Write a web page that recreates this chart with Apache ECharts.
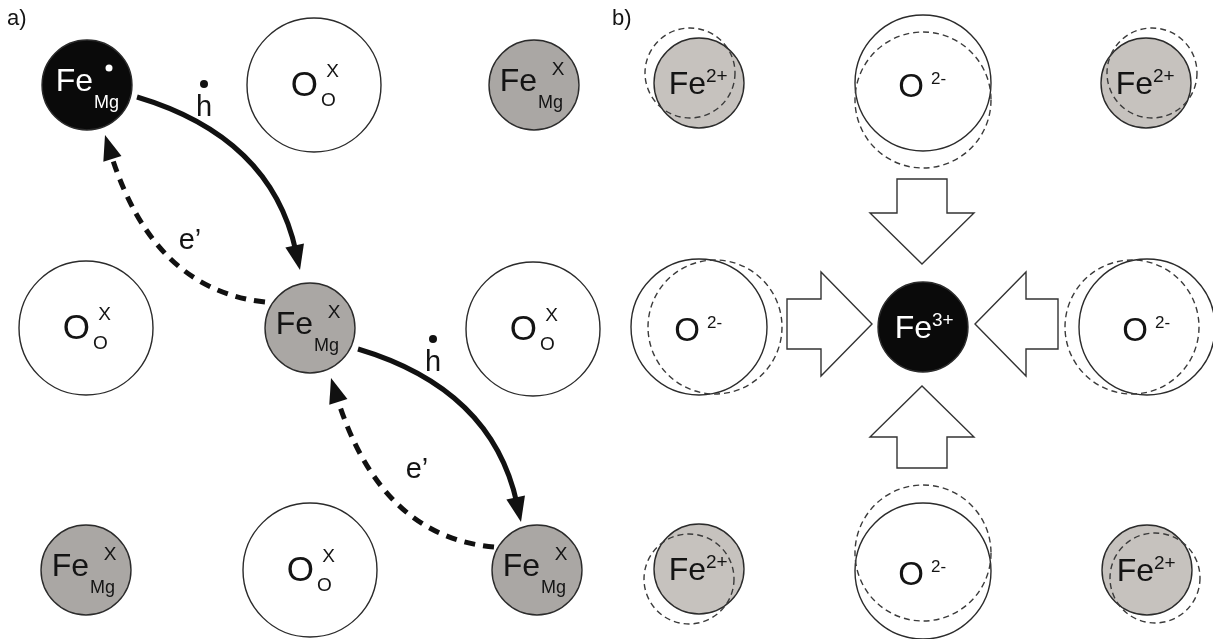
<!DOCTYPE html>
<html><head><meta charset="utf-8">
<script src="https://cdn.jsdelivr.net/npm/echarts@6/dist/echarts.min.js"></script>
<style>html,body{margin:0;padding:0;background:#fff}#c{width:1213px;height:639px}</style>
</head><body><div id="c"></div>
<script>
// ---------- Panel a: lattice sites [x, y, radius, element, subscript, superscript, fill]
const sitesA = [
  [87, 85, 45, 'Fe', 'Mg', '•', 'black'],
  [314, 85, 67, 'O', 'O', 'X', 'white'],
  [534, 85, 45, 'Fe', 'Mg', 'X', 'gray'],
  [86, 328, 67, 'O', 'O', 'X', 'white'],
  [310, 328, 45, 'Fe', 'Mg', 'X', 'gray'],
  [533, 329, 67, 'O', 'O', 'X', 'white'],
  [86, 570, 45, 'Fe', 'Mg', 'X', 'gray'],
  [310, 570, 67, 'O', 'O', 'X', 'white'],
  [537, 570, 45, 'Fe', 'Mg', 'X', 'gray']
];
// Panel a: charge hops [x0, y0, ctrlX, ctrlY, x1, y1, dashed]
const hops = [
  [137, 97, 271, 137, 300, 270, 0],
  [265, 302, 153, 290, 105, 135, 1],
  [358, 349, 492, 389, 521, 522, 0],
  [494, 547, 380, 537, 331, 378, 1]
];
// Panel a: hop labels [text, x, y, dotAbove]
const hopLabels = [
  ['h', 204, 108, 1],
  ['e’', 190, 241, 0],
  ['h', 433, 363, 1],
  ['e’', 417, 470, 0]
];
// ---------- Panel b: ions [x, y, radius, element, charge, fill]
const ionsB = [
  [699, 83, 45, 'Fe', '2+', 'gray'],
  [923, 83, 68, 'O', '2-', 'white'],
  [1146, 83, 45, 'Fe', '2+', 'gray'],
  [699, 327, 68, 'O', '2-', 'white'],
  [923, 327, 45, 'Fe', '3+', 'black'],
  [1147, 327, 68, 'O', '2-', 'white'],
  [699, 569, 45, 'Fe', '2+', 'gray'],
  [923, 571, 68, 'O', '2-', 'white'],
  [1147, 570, 45, 'Fe', '2+', 'gray']
];
// Panel b: displaced (dashed) ion outlines [x, y, radius]
const displacedB = [
  [690, 73, 45], [923, 100, 68], [1152, 73, 45],
  [715, 327, 67], [1132, 327, 67],
  [689, 579, 45], [923, 553, 68], [1155, 578, 45]
];
// Panel b: block arrows [tailX, tailY, tipX, tipY]
const pushArrows = [
  [922, 179, 922, 264],
  [787, 324, 872, 324],
  [1058, 324, 975, 324],
  [922, 468, 922, 386]
];
const panelLabels = [['a)', 7, 19], ['b)', 612, 19]];

const FONT = '"Liberation Sans", Arial, sans-serif';
const FILLS = { black: '#0a0a0a', gray: '#aaa7a4', white: '#ffffff' };
const FILLS_B = { black: '#0a0a0a', gray: '#c6c2be', white: '#ffffff' };
const INK = '#141414';

function txt(t, x, y, size, align, color) {
  return { type: 'text', style: { text: t, x: x, y: y, font: size + 'px ' + FONT, fill: color, align: align, verticalAlign: 'middle' } };
}

function renderSiteA(params, api) {
  const d = sitesA[params.dataIndex];
  const p = api.coord([api.value(0), api.value(1)]);
  const r = api.size([d[2], 0])[0];
  const col = d[6] === 'black' ? '#ffffff' : INK;
  const ch = [{ type: 'circle', shape: { cx: p[0], cy: p[1], r: r }, style: { fill: FILLS[d[6]], stroke: '#2b2b2b', lineWidth: 1.4 } }];
  if (d[3] === 'Fe') {
    const sh = d[6] === 'black' ? 3 : 0;
    ch.push(txt('Fe', p[0] + 3 + sh, p[1] - 3, 32, 'right', col));
    ch.push(txt(d[4], p[0] + 4 + sh, p[1] + 18, 18, 'left', col));
    if (d[5] === '•') ch.push({ type: 'circle', shape: { cx: p[0] + 22, cy: p[1] - 17, r: 3.5 }, style: { fill: '#ffffff' } });
    else ch.push(txt(d[5], p[0] + 24, p[1] - 15, 19, 'center', col));
  } else {
    ch.push(txt(d[3], p[0] + 4, p[1] + 1, 35, 'right', col));
    ch.push(txt(d[4], p[0] + 14.5, p[1] + 16, 19, 'center', col));
    ch.push(txt(d[5], p[0] + 18.5, p[1] - 13, 19, 'center', col));
  }
  return { type: 'group', children: ch };
}

function renderHop(params, api) {
  const d = hops[params.dataIndex];
  const s = api.coord([d[0], d[1]]);
  const c = api.coord([d[2], d[3]]);
  const e = api.coord([d[4], d[5]]);
  let ux = e[0] - c[0], uy = e[1] - c[1];
  const L = Math.hypot(ux, uy); ux /= L; uy /= L;
  const nx = -uy, ny = ux;
  const headLen = 25, headW = 9.5;
  const bx = e[0] - ux * headLen, by = e[1] - uy * headLen;
  const lx = e[0] - ux * (headLen - 6), ly = e[1] - uy * (headLen - 6);
  return { type: 'group', children: [
    { type: 'bezierCurve', shape: { x1: s[0], y1: s[1], x2: lx, y2: ly, cpx1: c[0], cpy1: c[1] },
      style: { stroke: '#111', lineWidth: 5, fill: null, lineDash: d[6] ? [11, 8] : null } },
    { type: 'polygon', shape: { points: [[e[0], e[1]], [bx + nx * headW, by + ny * headW], [bx - nx * headW, by - ny * headW]] },
      style: { fill: '#111' } }
  ] };
}

function renderHopLabel(params, api) {
  const d = hopLabels[params.dataIndex];
  const p = api.coord([api.value(0), api.value(1)]);
  const ch = [txt(d[0], p[0], p[1], 29, 'center', INK)];
  if (d[3]) ch.push({ type: 'circle', shape: { cx: p[0], cy: p[1] - 24, r: 4 }, style: { fill: '#111' } });
  return { type: 'group', children: ch };
}

function renderIonB(params, api) {
  const d = ionsB[params.dataIndex];
  const p = api.coord([api.value(0), api.value(1)]);
  const r = api.size([d[2], 0])[0];
  const col = d[5] === 'black' ? '#ffffff' : INK;
  const ch = [{ type: 'circle', shape: { cx: p[0], cy: p[1], r: r }, style: { fill: FILLS_B[d[5]], stroke: '#2b2b2b', lineWidth: 1.4 } }];
  if (d[3] === 'Fe') {
    const sh = d[5] === 'black' ? 2 : 0;
    ch.push(txt('Fe', p[0] + 7 + sh, p[1] + 2, 32, 'right', col));
    ch.push(txt(d[4], p[0] + 7 + sh, p[1] - 6, 19, 'left', col));
  } else {
    ch.push(txt(d[3], p[0] + 1, p[1] + 5, 33, 'right', col));
    ch.push(txt(d[4], p[0] + 8, p[1] - 4, 17, 'left', col));
  }
  return { type: 'group', children: ch };
}

function renderDisplaced(params, api) {
  const d = displacedB[params.dataIndex];
  const p = api.coord([api.value(0), api.value(1)]);
  const r = api.size([d[2], 0])[0];
  return { type: 'circle', shape: { cx: p[0], cy: p[1], r: r },
    style: { fill: null, stroke: '#3a3a3a', lineWidth: 1.4, lineDash: [6, 4] } };
}

function renderPush(params, api) {
  const d = pushArrows[params.dataIndex];
  const t = api.coord([d[0], d[1]]);
  const e = api.coord([d[2], d[3]]);
  let ux = e[0] - t[0], uy = e[1] - t[1];
  const L = Math.hypot(ux, uy); ux /= L; uy /= L;
  const nx = -uy, ny = ux;
  const sw = 25, hw = 52, hl = 51;
  const bx = e[0] - ux * hl, by = e[1] - uy * hl;
  const pts = [
    [t[0] + nx * sw, t[1] + ny * sw], [bx + nx * sw, by + ny * sw], [bx + nx * hw, by + ny * hw],
    [e[0], e[1]],
    [bx - nx * hw, by - ny * hw], [bx - nx * sw, by - ny * sw], [t[0] - nx * sw, t[1] - ny * sw]
  ];
  return { type: 'polygon', shape: { points: pts }, style: { fill: '#ffffff', stroke: '#333', lineWidth: 1.4 } };
}

function renderPanelLabel(params, api) {
  const d = panelLabels[params.dataIndex];
  const p = api.coord([api.value(0), api.value(1)]);
  return txt(d[0], p[0], p[1], 22, 'left', INK);
}

const chart = echarts.init(document.getElementById('c'), null, { renderer: 'canvas' });
chart.setOption({
  animation: false,
  backgroundColor: '#ffffff',
  grid: { left: 0, right: 0, top: 0, bottom: 0 },
  xAxis: { type: 'value', min: 0, max: 1213, show: false },
  yAxis: { type: 'value', min: 0, max: 639, inverse: true, show: false },
  series: [
    { type: 'custom', clip: false, renderItem: renderSiteA, data: sitesA.map(d => [d[0], d[1]]) },
    { type: 'custom', clip: false, renderItem: renderHop, data: hops.map(d => [d[4], d[5]]) },
    { type: 'custom', clip: false, renderItem: renderHopLabel, data: hopLabels.map(d => [d[1], d[2]]) },
    { type: 'custom', clip: false, renderItem: renderIonB, data: ionsB.map(d => [d[0], d[1]]) },
    { type: 'custom', clip: false, renderItem: renderDisplaced, data: displacedB.map(d => [d[0], d[1]]) },
    { type: 'custom', clip: false, renderItem: renderPush, data: pushArrows.map(d => [d[2], d[3]]) },
    { type: 'custom', clip: false, renderItem: renderPanelLabel, data: panelLabels.map(d => [d[1], d[2]]) }
  ]
});
</script>
</body></html>
